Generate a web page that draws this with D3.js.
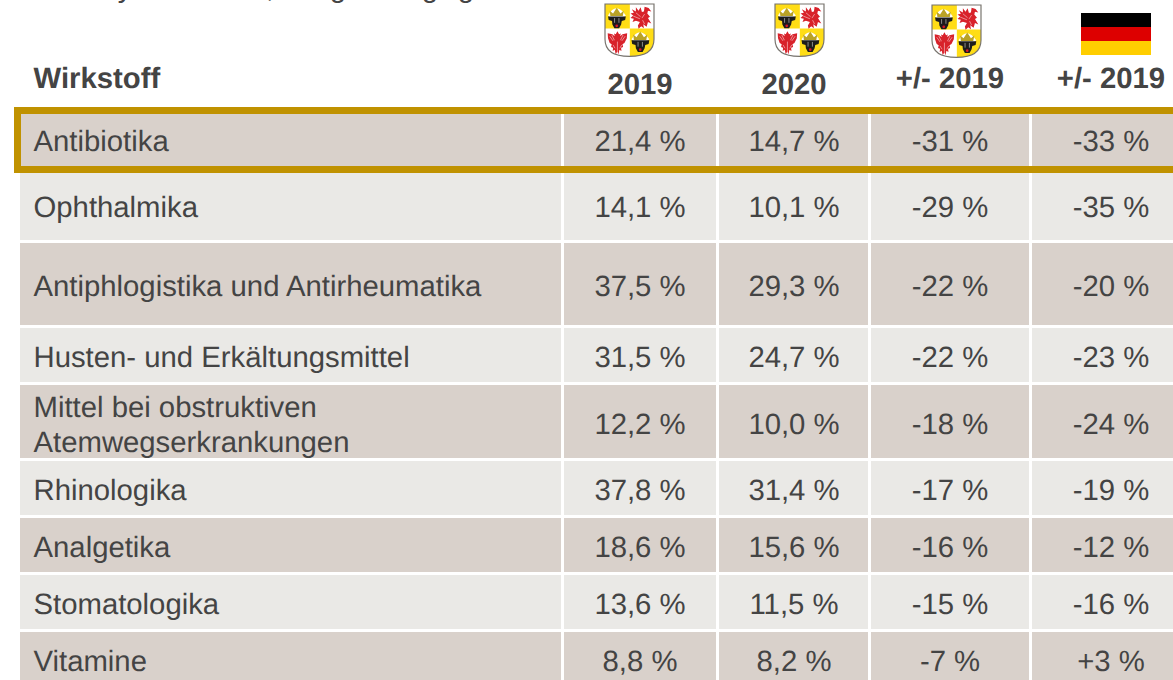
<!DOCTYPE html>
<html lang="de">
<head>
<meta charset="utf-8">
<script src="https://cdn.jsdelivr.net/npm/d3@7/dist/d3.min.js"></script>
<style>
html,body{margin:0;padding:0;background:#fff;overflow:hidden}
svg{display:block}
text{font-family:"Liberation Sans",Arial,sans-serif;fill:#444444;text-rendering:geometricPrecision}
</style>
</head>
<body>
<script>
// ---- data ----
const categories = [
  ["Antibiotika"],
  ["Ophthalmika"],
  ["Antiphlogistika und Antirheumatika"],
  ["Husten- und Erkältungsmittel"],
  ["Mittel bei obstruktiven", "Atemwegserkrankungen"],
  ["Rhinologika"],
  ["Analgetika"],
  ["Stomatologika"],
  ["Vitamine"]
];
const values2019   = ["21,4 %","14,1 %","37,5 %","31,5 %","12,2 %","37,8 %","18,6 %","13,6 %","8,8 %"];
const values2020   = ["14,7 %","10,1 %","29,3 %","24,7 %","10,0 %","31,4 %","15,6 %","11,5 %","8,2 %"];
const changeMV     = ["-31 %","-29 %","-22 %","-22 %","-18 %","-17 %","-16 %","-15 %","-7 %"];
const changeDE     = ["-33 %","-35 %","-20 %","-23 %","-24 %","-19 %","-12 %","-16 %","+3 %"];
const headers      = ["Wirkstoff","2019","2020","+/- 2019","+/- 2019"];
const flagStripes  = ["#000000","#dd0000","#ffce00"];
const clippedGlyphs = ["y",",","g","g","g"];

// ---- layout ----
const W = 1173, H = 680;
const FONT = 29.3;
const colColumns = [0,1,2,3,4];
const colEdges = [[20,561],[564,716],[719,868],[871,1029],[1032,1173]];
const colCentres = [33.5,640,794,950,1111];
const headerBaselines = [88,94,94,88,88];
const rowEdges = [[114,166],[173,240],[243,325],[328,382],[385,458],[461,515],[518,572],[575,629],[632,690]];
const rowCentres = [141,207,286,357,424,490,547,604,661];
const glyphX = [125,270,338,430,466];
const armsAt = [[605,4],[775,4],[932,5]];

const rowIdx = d3.range(categories.length);
const xText = d3.scaleOrdinal(colColumns, colCentres);
const yMid  = d3.scaleOrdinal(rowIdx, rowCentres);
const fillFor = d3.scaleOrdinal([0,1], ["#d9d1cb","#eae9e6"]);

const svg = d3.select("body").append("svg").attr("width",W).attr("height",H).attr("viewBox",`0 0 ${W} ${H}`);

// clipped line of text at the very top of the picture (only descenders remain)
svg.append("g").selectAll("text").data(clippedGlyphs).join("text")
  .attr("x",(d,i)=>glyphX[i]).attr("y",-3).attr("text-anchor","middle")
  .attr("font-size",FONT).text(d=>d);

// ---- row cells ----
const rows = svg.append("g").selectAll("g").data(rowIdx).join("g");
rows.selectAll("rect").data(r=>colColumns.map(c=>({r,c}))).join("rect")
  .attr("x",d=>colEdges[d.c][0])
  .attr("width",d=>colEdges[d.c][1]-colEdges[d.c][0])
  .attr("y",d=>rowEdges[d.r][0])
  .attr("height",d=>rowEdges[d.r][1]-rowEdges[d.r][0])
  .attr("fill",d=>fillFor(d.r%2));

// ---- highlight frame around first row ----
svg.append("rect").attr("x",17.5).attr("y",110.5).attr("width",W+20).attr("height",59)
  .attr("fill","none").attr("stroke","#c09200").attr("stroke-width",7);

// ---- row labels ----
const LINE = 35;
svg.append("g").selectAll("text").data(rowIdx).join("text")
  .attr("font-size",FONT)
  .each(function(r){
    const lines = categories[r];
    d3.select(this).selectAll("tspan").data(lines).join("tspan")
      .attr("x",xText(0))
      .attr("y",(l,i)=>yMid(r)+10+(i-(lines.length-1)/2)*LINE)
      .text(l=>l);
  });

// ---- value columns ----
[values2019,values2020,changeMV,changeDE].forEach((col,ci)=>{
  svg.append("g").selectAll("text").data(col).join("text")
    .attr("x",xText(ci+1)).attr("y",(d,i)=>yMid(i)+10)
    .attr("text-anchor","middle").attr("font-size",FONT).text(d=>d);
});

// ---- headers ----
svg.append("g").selectAll("text").data(headers).join("text")
  .attr("x",(d,i)=>xText(i)).attr("y",(d,i)=>headerBaselines[i])
  .attr("text-anchor",(d,i)=>i===0?"start":"middle")
  .attr("font-size",FONT).attr("font-weight","bold").text(d=>d);

// ---- German flag ----
const flagY = d3.scaleBand().domain(flagStripes).range([13,55]);
svg.append("g").selectAll("rect").data(flagStripes).join("rect")
  .attr("x",1081).attr("width",70).attr("y",d=>flagY(d)).attr("height",flagY.bandwidth()).attr("fill",d=>d);

// ---- coat of arms of Mecklenburg-Vorpommern ----
const defs = svg.append("defs");
defs.append("filter").attr("id","soft").append("feGaussianBlur").attr("stdDeviation",1.1);
const shieldPath = "M0 0H146V105Q146 156 73 156Q0 156 0 105Z";
defs.append("clipPath").attr("id","shieldClip").append("path").attr("d",shieldPath);
const bull = defs.append("g").attr("id","bull");
bull.append("path").attr("d","M9 34Q33 -8 62 34L54 40H16Z").attr("fill","#fff");
bull.append("path").attr("d","M16 36L14 20L24 28L35 11L46 28L56 20L53 36Z").attr("fill","#b9a227");
bull.append("path").attr("d","M9 37H62L60 48L50 51L48 61L42 72H28L22 61L21 51L11 48Z").attr("fill","#1d1d1d");
bull.append("circle").attr("cx",35).attr("cy",65).attr("r",4).attr("fill","#d8152a");
bull.append("rect").attr("x",27).attr("y",42).attr("width",3).attr("height",14).attr("fill","#8a8a8a");
bull.append("rect").attr("x",40).attr("y",42).attr("width",3).attr("height",14).attr("fill","#8a8a8a");
const griffinD = "M118 8L130 12L138 22L128 20L126 28L134 38L128 42L138 58L128 54L124 68L114 60L116 72L108 66L100 74L98 64L104 54L92 50L82 54L86 44L76 42L84 34L76 28L86 26L80 16L92 22L92 10L100 20L106 10L110 24L116 22Z";
const griffinCuts = "M92 26L106 38M84 36L104 44M112 48L118 60M118 30L110 42";
const eagleD = "M37 81L42 90L47 88L45 96L52 90L66 87L65 102L58 116L52 120L54 128L48 130L49 140L43 136L40 150L37 141L32 150L29 136L23 140L24 130L18 128L20 120L14 116L9 102L8 87L22 90L29 96L27 88L32 90Z";
const eagleCuts = "M14 96L24 110M20 92L28 108M60 96L50 110M54 92L46 108M24 122L30 132M50 122L44 132M37 112V142";
const shield = defs.append("g").attr("id","mvShield");
shield.append("path").attr("d",shieldPath).attr("fill","#fff");
const sc = shield.append("g").attr("clip-path","url(#shieldClip)");
sc.append("rect").attr("x",0).attr("y",0).attr("width",74).attr("height",73).attr("fill","#ffdd14");
sc.append("rect").attr("x",74).attr("y",73).attr("width",72).attr("height",83).attr("fill","#ffdd14");
sc.append("use").attr("href","#bull").attr("x",0).attr("y",0);
sc.append("use").attr("href","#bull").attr("x",70).attr("y",71);
sc.append("path").attr("d",griffinD).attr("fill","#d8202a");
sc.append("path").attr("d",griffinCuts).attr("fill","none").attr("stroke","#f4c6c6").attr("stroke-width",2);
sc.append("path").attr("d",eagleD).attr("fill","#d8202a");
sc.append("path").attr("d",eagleCuts).attr("fill","none").attr("stroke","#f4c6c6").attr("stroke-width",2);
shield.append("path").attr("d",shieldPath).attr("fill","none").attr("stroke","#77736d").attr("stroke-width",3.5);

svg.append("g").selectAll("use").data(armsAt).join("use")
  .attr("href","#mvShield").attr("filter","url(#soft)")
  .attr("transform",d=>`translate(${d[0]},${d[1]}) scale(0.3356)`);
</script>
</body>
</html>
